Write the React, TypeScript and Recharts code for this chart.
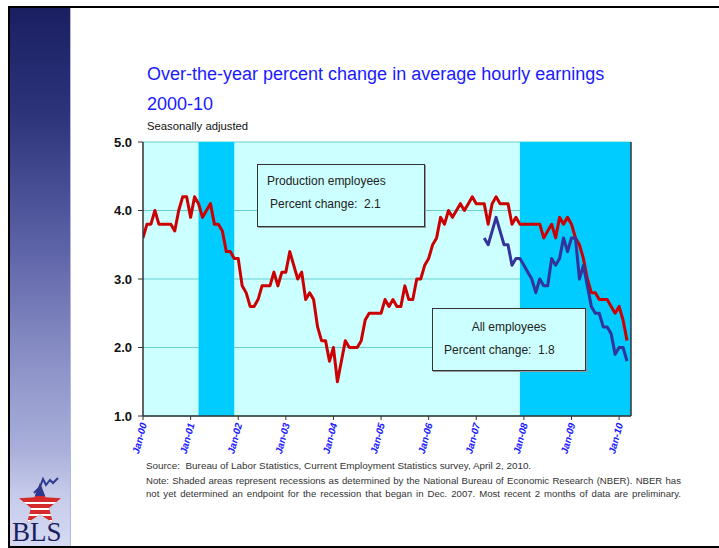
import React from "react";
import { LineChart, Line, XAxis, YAxis, CartesianGrid, ReferenceArea } from "recharts";

// Over-the-year % change, production employees, Jan-2000 .. Mar-2010 (monthly)
const production2000 = [3.6, 3.8, 3.8, 4.0, 3.8, 3.8, 3.8, 3.8, 3.7, 4.0, 4.2, 4.2];
const production2001 = [3.9, 4.2, 4.1, 3.9, 4.0, 4.1, 3.8, 3.8, 3.7, 3.4, 3.4, 3.3];
const production2002 = [3.3, 2.9, 2.8, 2.6, 2.6, 2.7, 2.9, 2.9, 2.9, 3.1, 2.9, 3.1];
const production2003 = [3.1, 3.4, 3.2, 3.0, 3.1, 2.7, 2.8, 2.7, 2.3, 2.1, 2.1, 1.8];
const production2004 = [2.0, 1.5, 1.8, 2.1, 2.0, 2.0, 2.0, 2.1, 2.4, 2.5, 2.5, 2.5];
const production2005 = [2.5, 2.7, 2.6, 2.7, 2.6, 2.6, 2.9, 2.7, 2.7, 3.0, 3.0, 3.2];
const production2006 = [3.3, 3.5, 3.6, 3.9, 3.8, 4.0, 3.9, 4.0, 4.1, 4.0, 4.1, 4.2];
const production2007 = [4.1, 4.1, 4.1, 3.8, 4.1, 4.2, 4.1, 4.1, 4.1, 3.8, 3.9, 3.8];
const production2008 = [3.8, 3.8, 3.8, 3.8, 3.8, 3.6, 3.7, 3.8, 3.6, 3.9, 3.8, 3.9];
const production2009 = [3.8, 3.6, 3.5, 3.3, 3.0, 2.8, 2.8, 2.7, 2.7, 2.7, 2.6, 2.5];
const production2010 = [2.6, 2.4, 2.1];

// All employees, Mar-2007 .. Mar-2010
const allStart = 86; // month index of Mar-07
const allEmployees = [
  3.6, 3.5, 3.7, 3.9, 3.7, 3.5, 3.5, 3.2, 3.3, 3.3,
  3.2, 3.1, 3.0, 2.8, 3.0, 2.9, 2.9, 3.3, 3.2, 3.3, 3.6, 3.4,
  3.6, 3.6, 3.0, 3.2, 2.9, 2.6, 2.5, 2.5, 2.3, 2.3, 2.2, 1.9,
  2.0, 2.0, 1.8,
];

const xTicks = [0, 12, 24, 36, 48, 60, 72, 84, 96, 108, 120];
const xTickLabels = ["Jan-00", "Jan-01", "Jan-02", "Jan-03", "Jan-04", "Jan-05", "Jan-06", "Jan-07", "Jan-08", "Jan-09", "Jan-10"];
const yTicks = [1, 2, 3, 4, 5];

// Recessions (month indices): Mar-01..Nov-01, Dec-07..end
const recessions = [
  { start: 14, end: 23 },
  { start: 95, end: 123 },
];

const production = [
  ...production2000, ...production2001, ...production2002, ...production2003,
  ...production2004, ...production2005, ...production2006, ...production2007,
  ...production2008, ...production2009, ...production2010,
];

const data = production.map((v, i) => ({
  t: i,
  prod: v,
  all: i >= allStart ? allEmployees[i - allStart] : null,
}));

const FONT = '"Liberation Sans", Arial, Helvetica, sans-serif';

const XTick = (props: any) => {
  const { x, y, payload } = props;
  const idx = xTicks.indexOf(payload.value);
  const label = idx >= 0 ? xTickLabels[idx] : "";
  const ax = x + 4;
  const ay = y + 2;
  return (
    <text
      x={ax}
      y={ay}
      transform={`rotate(-75, ${ax}, ${ay})`}
      textAnchor="end"
      fontFamily={FONT}
      fontSize={10}
      fontWeight="bold"
      fontStyle="italic"
      fill="#1a1aff"
    >
      {label}
    </text>
  );
};

const starPoints = (cx: number, cy: number, ro: number, ri: number) => {
  const pts: string[] = [];
  for (let k = 0; k < 10; k++) {
    const r = k % 2 === 0 ? ro : ri;
    const a = -Math.PI / 2 + (k * Math.PI) / 5;
    pts.push(`${cx + r * Math.cos(a)},${cy + r * Math.sin(a)}`);
  }
  return pts.join(" ");
};

export default function App() {
  const star = starPoints(40, 505, 22, 9.5);
  return (
    <div
      style={{
        position: "absolute",
        left: 0,
        top: 0,
        width: 719,
        height: 548,
        background: "#ffffff",
        overflow: "hidden",
        fontFamily: FONT,
      }}
    >
      <svg width={719} height={548} style={{ position: "absolute", left: 0, top: 0 }}>
        <defs>
          <linearGradient id="sidebar" x1="0" y1="0" x2="0" y2="1">
            <stop offset="0" stopColor="#1a1f62" />
            <stop offset="0.2" stopColor="#2d347a" />
            <stop offset="0.45" stopColor="#5e64a8" />
            <stop offset="0.65" stopColor="#8a90c6" />
            <stop offset="0.82" stopColor="#aab0da" />
            <stop offset="0.9" stopColor="#c6cbea" />
            <stop offset="1" stopColor="#d6daf2" />
          </linearGradient>
          <clipPath id="starClip">
            <polygon points={star} />
          </clipPath>
        </defs>
        <rect x={10} y={8} width={60} height={540} fill="url(#sidebar)" />
        <line x1={70.5} y1={8} x2={70.5} y2={548} stroke="#b4b9e2" strokeWidth={1} />
        {/* frame */}
        <rect x={8} y={6} width={711} height={2} fill="#000" />
        <rect x={8} y={6} width={2} height={542} fill="#000" />
        <rect x={8} y={546} width={711} height={2} fill="#000" />
        {/* BLS logo */}
        <g clipPath="url(#starClip)">
          <rect x={15} y={482} width={50} height={48} fill="#d42a2a" />
          <rect x={15} y={482} width={50} height={14} fill="#2b3a8f" />
          <rect x={15} y={502} width={50} height={2} fill="#ffffff" />
          <rect x={15} y={508} width={50} height={2} fill="#ffffff" />
          <rect x={15} y={514} width={50} height={2} fill="#ffffff" />
          <rect x={15} y={520} width={50} height={2} fill="#ffffff" />
        </g>
        <polyline
          points="34,493 40,487 43,479 46,485 50,480 53,483 58,478"
          fill="none"
          stroke="#2b3a8f"
          strokeWidth={2}
        />
        <text x={12} y={541} fontFamily='"Liberation Serif", "Times New Roman", serif' fontSize={27} fill="#1b1f5e">
          BLS
        </text>
      </svg>

      <div style={{ position: "absolute", left: 0, top: 0 }}>
        <LineChart
          width={719}
          height={548}
          data={data}
          margin={{ top: 142, right: 48, bottom: 82, left: 103 }}
        >
          <CartesianGrid
            vertical={false}
            horizontal={true}
            stroke="#66d0d0"
            strokeWidth={1}
            fill="#ccffff"
            fillOpacity={1}
          />
          {recessions.map((r, i) => (
            <ReferenceArea
              key={i}
              x1={r.start}
              x2={r.end}
              fill="#00ccff"
              fillOpacity={1}
              stroke="none"
              ifOverflow="hidden"
            />
          ))}
          <XAxis
            dataKey="t"
            type="number"
            domain={[0, 123]}
            ticks={xTicks}
            interval={0}
            allowDataOverflow
            height={50}
            tick={<XTick />}
            tickSize={4}
            tickMargin={2}
            axisLine={{ stroke: "#333", strokeWidth: 1.5 }}
            tickLine={{ stroke: "#333" }}
          />
          <YAxis
            domain={[1, 5]}
            ticks={yTicks}
            interval={0}
            width={40}
            tickSize={5}
            tickMargin={6}
            tickFormatter={(v: number) => v.toFixed(1)}
            tick={{ fontFamily: FONT, fontSize: 13, fontWeight: "bold", fill: "#111" }}
            axisLine={{ stroke: "#333", strokeWidth: 1.5 }}
            tickLine={{ stroke: "#333" }}
          />
          <YAxis
            yAxisId="r"
            orientation="right"
            domain={[1, 5]}
            ticks={yTicks}
            interval={0}
            width={40}
            tickSize={5}
            tickMargin={7}
            tickFormatter={(v: number) => v.toFixed(1)}
            tick={{ fontFamily: FONT, fontSize: 13, fontWeight: "bold", fill: "#111", textAnchor: "start" }}
            axisLine={{ stroke: "#333", strokeWidth: 1.5 }}
            tickLine={{ stroke: "#333" }}
          />
          <Line
            type="linear"
            dataKey="prod"
            stroke="#cc0000"
            strokeWidth={3}
            dot={false}
            activeDot={false}
            isAnimationActive={false}
            strokeLinejoin="round"
          />
          <Line
            type="linear"
            dataKey="all"
            stroke="#333399"
            strokeWidth={3}
            dot={false}
            activeDot={false}
            connectNulls={false}
            isAnimationActive={false}
            strokeLinejoin="round"
          />
        </LineChart>
      </div>

      {/* Titles */}
      <div style={{ position: "absolute", left: 147, top: 63, fontSize: 18, color: "#1a1aff", whiteSpace: "nowrap", lineHeight: "22px" }}>
        Over-the-year percent change in average hourly earnings
      </div>
      <div style={{ position: "absolute", left: 147, top: 93, fontSize: 18, color: "#1a1aff", whiteSpace: "nowrap", lineHeight: "22px" }}>
        2000-10
      </div>
      <div style={{ position: "absolute", left: 147, top: 119, fontSize: 11.3, color: "#111", whiteSpace: "nowrap", lineHeight: "14px" }}>
        Seasonally adjusted
      </div>

      {/* Annotation boxes */}
      <div
        style={{
          position: "absolute",
          left: 257,
          top: 164,
          width: 166,
          height: 61,
          background: "#ccffff",
          border: "1px solid #333",
          boxShadow: "1px 1px 0 #999",
          fontSize: 12,
          color: "#222",
        }}
      >
        <div style={{ position: "absolute", left: 9, top: 9, whiteSpace: "nowrap" }}>Production employees</div>
        <div style={{ position: "absolute", left: 12, top: 32, whiteSpace: "pre" }}>Percent change:  2.1</div>
      </div>
      <div
        style={{
          position: "absolute",
          left: 432,
          top: 308,
          width: 152,
          height: 61,
          background: "#ccffff",
          border: "1px solid #333",
          boxShadow: "1px 1px 0 #999",
          fontSize: 12,
          color: "#222",
        }}
      >
        <div style={{ position: "absolute", left: 0, width: 152, top: 11, textAlign: "center", whiteSpace: "nowrap" }}>All employees</div>
        <div style={{ position: "absolute", left: 11, top: 34, whiteSpace: "pre" }}>Percent change:  1.8</div>
      </div>

      {/* Source / notes */}
      <div style={{ position: "absolute", left: 146, top: 459, fontSize: 9.9, color: "#333", whiteSpace: "pre", lineHeight: "13px" }}>
        Source:  Bureau of Labor Statistics, Current Employment Statistics survey, April 2, 2010.
      </div>
      <div
        style={{
          position: "absolute",
          left: 146,
          top: 474,
          width: 535,
          fontSize: 9.6,
          color: "#333",
          lineHeight: "13px",
        }}
      >
        <div style={{ textAlign: "justify", textAlignLast: "justify", whiteSpace: "nowrap" }}>
          Note: Shaded areas represent recessions as determined by the National Bureau of Economic Research (NBER). NBER has
        </div>
        <div style={{ textAlign: "justify", textAlignLast: "justify" }}>
          not yet determined an endpoint for the recession that began in Dec. 2007. Most recent 2 months of data are preliminary.
        </div>
      </div>
    </div>
  );
}
